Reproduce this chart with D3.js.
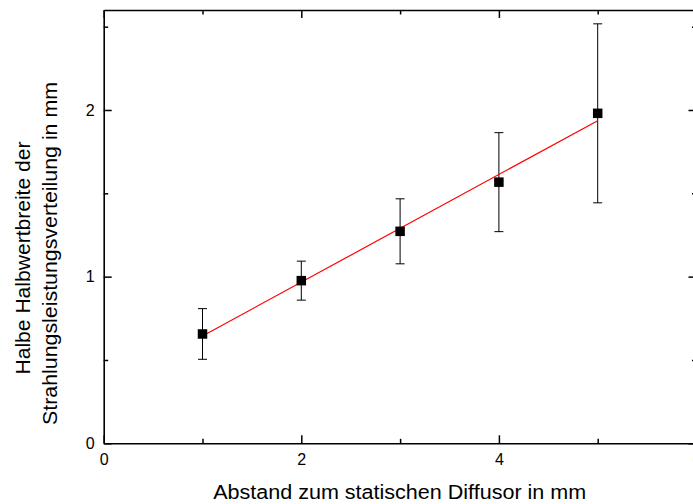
<!DOCTYPE html>
<html>
<head>
<meta charset="utf-8">
<script src="https://cdn.jsdelivr.net/npm/d3@7"></script>
<style>
  html, body { margin: 0; padding: 0; background: #fff; overflow: hidden; }
  svg { display: block; font-family: Arial, "Liberation Sans", sans-serif; }
</style>
</head>
<body>
<svg id="chart" width="693" height="504"></svg>
<script>
// Measured half widths versus diffuser distance
const distances = [1, 2, 3, 4, 5];
const halfWidths = [0.656, 0.976, 1.272, 1.567, 1.980];
const errors = [0.152, 0.117, 0.195, 0.297, 0.537];

// Linear fit: y = intercept + slope * x
const fitIntercept = 0.321;
const fitSlope = 0.323;
const fitRange = [1, 5];

const xMajorTicks = [0, 2, 4, 6];
const xMinorTicks = [1, 3, 5];
const yMajorTicks = [0, 1, 2];
const yMinorTicks = [0.5, 1.5, 2.5];

const xTitle = "Abstand zum statischen Diffusor in mm";
const yTitleLines = ["Halbe Halbwertbreite der", "Strahlungsleistungsverteilung in mm"];

const svg = d3.select("#chart");

const x = d3.scaleLinear().domain([0, 6]).range([103.7, 696.5]);
const y = d3.scaleLinear().domain([0, 2.6]).range([443.3, 10]);

const majorLen = 8, minorLen = 4.5;

function styleAxis(g, fontSize) {
  g.selectAll("path.domain").attr("stroke", "#000").attr("stroke-width", 1.6);
  g.selectAll(".tick line").attr("stroke", "#000").attr("stroke-width", 1.5);
  g.selectAll(".tick text").attr("fill", "#000").style("font-size", fontSize + "px")
    .style("font-family", "Arial, 'Liberation Sans', sans-serif");
}

// Bottom axis with labels
svg.append("g").attr("transform", `translate(0,${y(0)})`)
  .call(d3.axisBottom(x).tickValues(xMajorTicks).tickFormat(d3.format("d"))
    .tickSizeInner(-majorLen).tickSizeOuter(0).tickPadding(10))
  .call(g => styleAxis(g, 16));
svg.append("g").attr("transform", `translate(0,${y(0)})`)
  .call(d3.axisBottom(x).tickValues(xMinorTicks).tickFormat("")
    .tickSizeInner(-minorLen).tickSizeOuter(0))
  .call(g => { styleAxis(g, 16); g.select("path.domain").remove(); });

// Top axis, ticks only
svg.append("g").attr("transform", `translate(0,${y.range()[1]})`)
  .call(d3.axisTop(x).tickValues(xMajorTicks).tickFormat("")
    .tickSizeInner(-majorLen).tickSizeOuter(0))
  .call(g => styleAxis(g, 16));
svg.append("g").attr("transform", `translate(0,${y.range()[1]})`)
  .call(d3.axisTop(x).tickValues(xMinorTicks).tickFormat("")
    .tickSizeInner(-minorLen).tickSizeOuter(0))
  .call(g => { styleAxis(g, 16); g.select("path.domain").remove(); });

// Left axis with labels
svg.append("g").attr("transform", `translate(${x(0)},0)`)
  .call(d3.axisLeft(y).tickValues(yMajorTicks).tickFormat(d3.format("d"))
    .tickSizeInner(-majorLen).tickSizeOuter(0).tickPadding(9))
  .call(g => styleAxis(g, 16));
svg.append("g").attr("transform", `translate(${x(0)},0)`)
  .call(d3.axisLeft(y).tickValues(yMinorTicks).tickFormat("")
    .tickSizeInner(-minorLen).tickSizeOuter(0))
  .call(g => { styleAxis(g, 16); g.select("path.domain").remove(); });

// Right axis, ticks only
svg.append("g").attr("transform", `translate(${x.range()[1]},0)`)
  .call(d3.axisRight(y).tickValues(yMajorTicks).tickFormat("")
    .tickSizeInner(-majorLen).tickSizeOuter(0))
  .call(g => styleAxis(g, 16));
svg.append("g").attr("transform", `translate(${x.range()[1]},0)`)
  .call(d3.axisRight(y).tickValues(yMinorTicks).tickFormat("")
    .tickSizeInner(-minorLen).tickSizeOuter(0))
  .call(g => { styleAxis(g, 16); g.select("path.domain").remove(); });

// Error bars
const capHalf = 4.5;
const bars = svg.append("g").attr("stroke", "#000").attr("stroke-width", 1);
distances.forEach((d, i) => {
  const top = y(halfWidths[i] + errors[i]);
  const bot = y(halfWidths[i] - errors[i]);
  const cx = x(d);
  bars.append("line").attr("x1", cx).attr("x2", cx).attr("y1", top).attr("y2", bot);
  bars.append("line").attr("x1", cx - capHalf).attr("x2", cx + capHalf).attr("y1", top).attr("y2", top);
  bars.append("line").attr("x1", cx - capHalf).attr("x2", cx + capHalf).attr("y1", bot).attr("y2", bot);
});

// Fit line
svg.append("line")
  .attr("x1", x(fitRange[0])).attr("y1", y(fitIntercept + fitSlope * fitRange[0]))
  .attr("x2", x(fitRange[1])).attr("y2", y(fitIntercept + fitSlope * fitRange[1]))
  .attr("stroke", "#ff0000").attr("stroke-width", 1.2);

// Square markers
const ms = 9.5;
svg.append("g").selectAll("rect").data(distances).join("rect")
  .attr("x", d => x(d) - ms / 2)
  .attr("y", (d, i) => y(halfWidths[i]) - ms / 2)
  .attr("width", ms).attr("height", ms)
  .attr("fill", "#000");

// Axis titles
svg.append("text")
  .attr("x", 399.7).attr("y", 499)
  .attr("text-anchor", "middle")
  .attr("textLength", 373).attr("lengthAdjust", "spacingAndGlyphs")
  .style("font-size", "20px")
  .attr("fill", "#000")
  .text(xTitle);

// Two-line rotated y title, each line centred on its own position
const yTitleSpec = [
  { cx: 30, cy: 258, len: 233 },
  { cx: 57, cy: 253.5, len: 343 }
];
svg.append("g").selectAll("text").data(yTitleLines).join("text")
  .attr("transform", (d, i) => `translate(${yTitleSpec[i].cx},${yTitleSpec[i].cy}) rotate(-90)`)
  .attr("text-anchor", "middle")
  .attr("textLength", (d, i) => yTitleSpec[i].len)
  .attr("lengthAdjust", "spacingAndGlyphs")
  .style("font-size", "20px")
  .attr("fill", "#000")
  .text(d => d);
</script>
</body>
</html>
